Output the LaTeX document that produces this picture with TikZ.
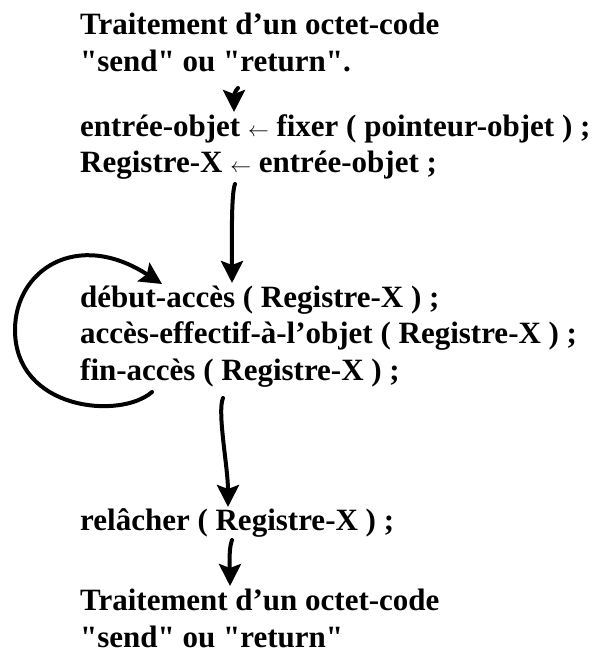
\documentclass[tikz,border=0pt]{standalone}
\usepackage{fontspec}
\setmainfont{Liberation Serif}[Ligatures=TeXOff]
\usetikzlibrary{arrows.meta, calc}

\newcommand{\larr}{{\fontsize{22}{22}\selectfont$\leftarrow$}}

\begin{document}
\begin{tikzpicture}[x=1pt, y=-1pt,
    every node/.style={anchor=base west, inner sep=0pt, font=\fontsize{31}{36}\selectfont\bfseries},
    flow/.style={-{Stealth[length=22pt,width=22pt,inset=4pt]}, line width=4pt, line cap=round}
]
    \useasboundingbox (0,0) rectangle (614,655);

    \node (t1) at (80,35)  {Traitement d’un octet-code};
    \node (t2) at (80,72)  {"send" ou "return".};
    \node (t3) at (80,137) {entrée-objet \larr{} fixer ( pointeur-objet ) ;};
    \node (t4) at (80,172) {Registre-X \larr{} entrée-objet ;};
    \node (t5) at (80,307) {début-accès ( Registre-X ) ;};
    \node (t6) at (80,343) {accès-effectif-à-l’objet ( Registre-X ) ;};
    \node (t7) at (80,380) {fin-accès ( Registre-X ) ;};
    \node (t8) at (80,530) {relâcher ( Registre-X ) ;};
    \node (t9) at (80,610) {Traitement d’un octet-code};
    \node (t10) at (80,647) {"send" ou "return"};

    % downward flow
    \draw[flow] ($(t2.base west)+(158,16)$) .. controls +(-6,6) and +(0,-8) .. ($(t3.base west)+(154,-25)$);
    \draw[flow] ($(t4.base west)+(155,12)$) .. controls +(-4,10) and +(0,-40) .. ($(t5.base west)+(152,-24)$);
    \draw[flow] ($(t7.base west)+(143,18)$) .. controls +(-6,14) and +(0,-40) .. ($(t8.base west)+(148,-23)$);
    \draw[flow] ($(t8.base west)+(152,10)$) .. controls +(-4,10) and +(0,-10) .. ($(t9.base west)+(150,-24)$);

    % loop back
    \draw[flow] ($(t7.base west)+(72,12)$) .. controls +(-32,28) and +(0,80) .. (15,330)
        .. controls +(0,-60) and +(-85,-55) .. ($(t5.base west)+(82,-23)$);
\end{tikzpicture}
\end{document}
